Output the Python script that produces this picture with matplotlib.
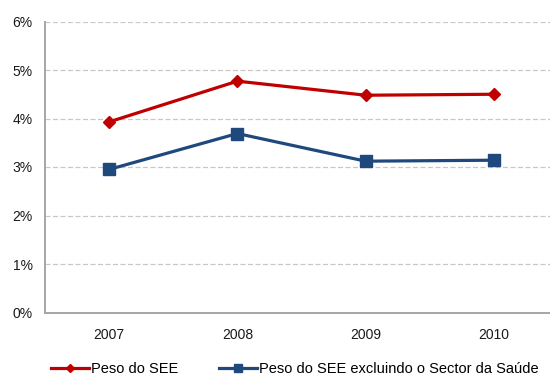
import matplotlib.pyplot as plt
from matplotlib.ticker import FuncFormatter

plt.rcParams['font.family'] = ['Liberation Sans', 'DejaVu Sans']

# Peso do SEE (em % do PIB)
anos = ['2007', '2008', '2009', '2010']
peso_see = [3.93, 4.77, 4.48, 4.50]
peso_see_sem_saude = [2.95, 3.69, 3.12, 3.14]

fig = plt.figure(figsize=(5.5, 3.78), dpi=100)
# the axes run slightly past the right edge of the figure
ax = fig.add_axes([45 / 550, 65.5 / 378, 513 / 550, 291 / 378])

x = range(len(anos))
ax.plot(x, peso_see, color='#C00000', lw=2.3, marker='D', ms=6.3,
        label='Peso do SEE', zorder=3)
ax.plot(x, peso_see_sem_saude, color='#1F497D', lw=2.3, marker='s', ms=9.2,
        label='Peso do SEE excluindo o Sector da Saúde', zorder=3)

ax.set_xlim(-0.5, len(anos) - 0.5)
ax.set_ylim(0, 6)
ax.set_yticks(range(0, 7))
ax.yaxis.set_major_formatter(FuncFormatter(lambda v, p: f'{v:.0f}%'))
ax.set_xticks(list(x))
ax.set_xticklabels(anos)

ax.grid(axis='y', color='#C8C8C8', linestyle=(0, (4, 2)), lw=0.9)
ax.set_axisbelow(True)
ax.tick_params(length=0, labelsize=10, colors='#1A1A1A')
ax.tick_params(axis='y', pad=9)
ax.tick_params(axis='x', pad=11)
for side in ['top', 'right']:
    ax.spines[side].set_visible(False)
for side in ['left', 'bottom']:
    ax.spines[side].set_color('#A6A6A6')
    ax.spines[side].set_linewidth(1.4)

fig.legend(loc='center left', bbox_to_anchor=(51 / 550, 9 / 378), ncol=2,
           frameon=False, fontsize=10.5, handlelength=2.6, handletextpad=0.15,
           columnspacing=2.8, borderpad=0, borderaxespad=0, markerscale=0.6)

fig.savefig('out.png', dpi=100)
